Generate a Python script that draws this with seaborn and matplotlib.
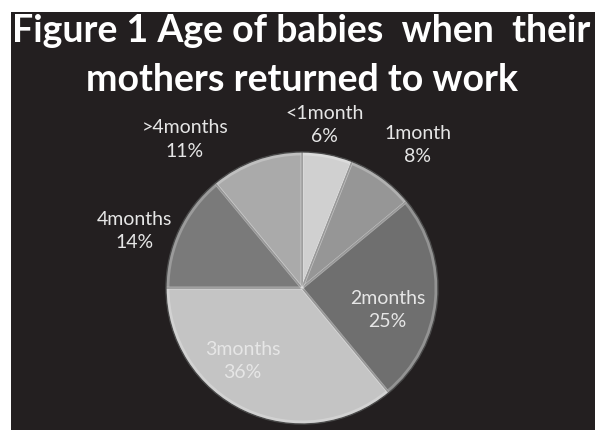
import numpy as np
import matplotlib
matplotlib.use("Agg")
import matplotlib.pyplot as plt
import seaborn as sns

# dados do gráfico
categories = ["<1month", "1month", "2months", "3months", "4months", ">4months"]
shares = [6, 8, 25, 36, 14, 11]
title_lines = ["Figure 1 Age of babies  when  their", "mothers returned to work"]

# tons de cinza de cada fatia
slice_colors = ["#d0d0d0", "#969696", "#6f6f6f", "#c4c4c4", "#7a7a7a", "#aaaaaa"]
# posição dos rótulos: (raio, desvio de ângulo em graus)
label_place = [(1.21, 3), (1.35, -3), (0.65, -9), (0.69, -14), (1.30, 6.5), (1.39, 18.5)]

sns.set_theme(style="white")
plt.rcParams["font.family"] = ["Lato", "DejaVu Sans"]

bg = "#231f20"
fig = plt.figure(figsize=(5.95, 4.3), dpi=100)
fig.patch.set_facecolor("white")

# fundo preto deslocado (borda branca à esquerda e em cima)
back = fig.add_axes([11 / 595, 0, 584 / 595, 418 / 430])
back.set_facecolor(bg)
back.set_xticks([])
back.set_yticks([])
for s in back.spines.values():
    s.set_visible(False)

ax = fig.add_axes([0, 0, 1, 1])
ax.set_facecolor("none")
wedges, _ = ax.pie(shares, colors=slice_colors, startangle=90, counterclock=False,
                   radius=1.0, center=(0, 0),
                   wedgeprops=dict(edgecolor="#4a4a4a", linewidth=1.0))
# brilho leve na borda de cada fatia (efeito chanfrado)
ax.pie(shares, colors=["none"] * len(shares), startangle=90, counterclock=False,
       radius=0.985, center=(0, 0),
       wedgeprops=dict(edgecolor=(1, 1, 1, 0.25), linewidth=2.0, fill=False))
ax.set_xlim(-302 / 136, 293 / 136)
ax.set_ylim(-142 / 136, 288 / 136)
ax.set_aspect("equal")
ax.axis("off")

for w, cat, val, (r, dth) in zip(wedges, categories, shares, label_place):
    mid = np.deg2rad((w.theta1 + w.theta2) / 2 + dth)
    x, y = r * np.cos(mid), r * np.sin(mid)
    ax.text(x, y, f"{cat}\n{val}%", ha="center", va="center", color="#e6e6e6",
            fontsize=14, linespacing=1.45)

fig.text(12 / 595, 1 - 31 / 430, title_lines[0], ha="left", va="center",
         color="white", fontsize=27, fontweight="bold")
fig.text(302 / 595, 1 - 80 / 430, title_lines[1], ha="center", va="center",
         color="white", fontsize=27, fontweight="bold")

fig.savefig("out.png", dpi=100, facecolor=fig.get_facecolor())
